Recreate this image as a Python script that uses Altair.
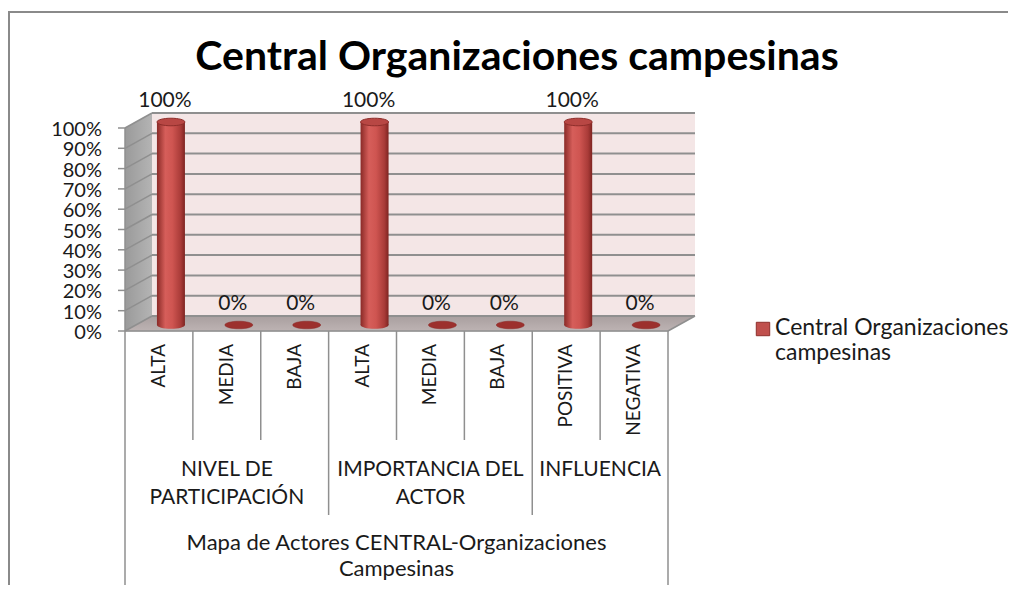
import altair as alt
import pandas as pd

# ---------------- data ----------------
categories = ["ALTA", "MEDIA", "BAJA", "ALTA", "MEDIA", "BAJA", "POSITIVA", "NEGATIVA"]
values = [1.0, 0.0, 0.0, 1.0, 0.0, 0.0, 1.0, 0.0]
value_labels = ["100%", "0%", "0%", "100%", "0%", "0%", "100%", "0%"]
groups = ["NIVEL DE\nPARTICIPACIÓN", "IMPORTANCIA DEL\nACTOR", "INFLUENCIA"]
group_sizes = [3, 3, 2]
top_group = "Mapa de Actores CENTRAL-Organizaciones\nCampesinas"
y_ticks = [0.0, 0.1, 0.2, 0.3, 0.4, 0.5, 0.6, 0.7, 0.8, 0.9, 1.0]
y_tick_labels = ["0%", "10%", "20%", "30%", "40%", "50%", "60%", "70%", "80%", "90%", "100%"]
series_name = "Central Organizaciones\ncampesinas"
title_text = "Central Organizaciones campesinas"

# ---------------- layout / style ----------------
W, H = 543, 203              # front plane of the plot (px)
N = len(categories)
UX = W / N                   # px per category unit
UY = H                       # px per y unit (domain 0..1)
DX = 27 / UX                 # 3-D depth, x
DY = 15 / UY                 # 3-D depth, y
BX = 12 / UX                 # bar depth shift, x
BY = 6 / UY                  # bar depth shift, y
BW = 28 / UX                 # bar width
FONT = "Lato"
GRID = "#8f8f8f"

xs = alt.Scale(domain=[0, N], nice=False, zero=False)
ys = alt.Scale(domain=[0, 1], nice=False, zero=False)
X = lambda f: alt.X(f, type="quantitative", scale=xs, axis=None)
Y = lambda f: alt.Y(f, type="quantitative", scale=ys, axis=None)

ELLIPSE = ("M-1,0C-1,-0.149,-0.552,-0.27,0,-0.27C0.552,-0.27,1,-0.149,1,0"
           "C1,0.149,0.552,0.27,0,0.27C-0.552,0.27,-1,0.149,-1,0Z")

# ---------------- tables ----------------
bars = pd.DataFrame({
    "cat": categories,
    "value": values,
    "label": value_labels,
    "c": [i + 0.5 for i in range(N)],
})
bars["x1"] = bars["c"] + BX - BW / 2
bars["x2"] = bars["c"] + BX + BW / 2
bars["xc"] = bars["c"] + BX
bars["yb"] = BY
bars["yt"] = bars["value"] + BY
bars["xl"] = bars["c"] + 6 / UX
pos_bars = bars[bars["value"] > 0]
zero_bars = bars[bars["value"] == 0]

ticks = pd.DataFrame({"v": y_ticks, "lab": y_tick_labels})
ticks["vb"] = ticks["v"] + DY
ticks["x0"] = 0.0
ticks["xb0"] = DX
ticks["xb1"] = N + DX
ticks["xt"] = -7 / UX

wall = pd.DataFrame({"x": [0, DX], "y": [0, DY], "y2": [1, 1 + DY]})
floor = pd.DataFrame({"x": [0, DX, N, N + DX], "y": [0, 0, 0, DY], "y2": [0, DY, DY, DY]})
back = pd.DataFrame({"x": [DX], "x2": [N + DX], "y": [DY], "y2": [1 + DY]})

# category dividers
bounds = [0]
for s in group_sizes:
    bounds.append(bounds[-1] + s)
div_rows = []
for k in range(N + 1):
    if k in (0, N):
        depth = -254 / UY
    elif k in bounds:
        depth = -184 / UY
    else:
        depth = -109 / UY
    div_rows.append({"x": k, "y": 1.0 if k == 0 else 0.0, "y2": depth})
dividers = pd.DataFrame(div_rows)

grp = pd.DataFrame({
    "g": groups,
    "xc": [(bounds[i] + bounds[i + 1]) / 2 for i in range(len(groups))],
    "y": [-128 / UY] * len(groups),
})
top = pd.DataFrame({"g": [top_group], "xc": [N / 2], "y": [-202 / UY]})
leaf = pd.DataFrame({"cat": categories, "xc": [i + 0.5 for i in range(N)], "y": [-13 / UY] * N})
edges = pd.DataFrame({"x": [0, N], "x2": [N, N + DX], "y": [0, 0], "y2": [0, DY]})

# ---------------- layers ----------------
border = alt.Chart(pd.DataFrame({"a": [0]})).mark_rect(
    fill=None, stroke="#8a8a8a", strokeWidth=2
).encode(x=alt.value(-116), x2=alt.value(895), y=alt.value(-116), y2=alt.value(472))

wall_l = alt.Chart(wall).mark_area(
    color={"gradient": "linear", "x1": 0, "x2": 1, "y1": 0, "y2": 0,
           "stops": [{"offset": 0, "color": "#9a9a9a"}, {"offset": 1, "color": "#b4b4b4"}]},
    interpolate="linear",
).encode(x=X("x"), y=Y("y"), y2="y2")

floor_l = alt.Chart(floor).mark_area(
    color={"gradient": "linear", "x1": 0, "x2": 0, "y1": 1, "y2": 0,
           "stops": [{"offset": 0, "color": "#bdb3b3"}, {"offset": 1, "color": "#a99f9f"}]},
    interpolate="linear",
).encode(x=X("x"), y=Y("y"), y2="y2")

back_l = alt.Chart(back).mark_rect(fill="#f4e6e6").encode(
    x=X("x"), x2="x2", y=Y("y"), y2="y2")

grid_back = alt.Chart(ticks).mark_rule(color=GRID, strokeWidth=2).encode(
    x=X("xb0"), x2="xb1", y=Y("vb"))
grid_side = alt.Chart(ticks).mark_rule(color=GRID, strokeWidth=1.5).encode(
    x=X("x0"), x2="xb0", y=Y("v"), y2="vb")
tick_l = alt.Chart(ticks).mark_rule(color=GRID, strokeWidth=1.5).encode(
    x=X("xt"), x2="x0", y=Y("v"))
ylab = alt.Chart(ticks).mark_text(
    align="right", baseline="middle", dx=-23, dy=2, font=FONT, fontSize=20, color="#1a1a1a"
).encode(x=X("x0"), y=Y("v"), text="lab:N")

edge_l = alt.Chart(edges).mark_rule(color=GRID, strokeWidth=1.5).encode(
    x=X("x"), x2="x2", y=Y("y"), y2="y2")
div_l = alt.Chart(dividers).mark_rule(color=GRID, strokeWidth=1.5).encode(
    x=X("x"), y=Y("y"), y2="y2")

body_grad = {"gradient": "linear", "x1": 0, "x2": 1, "y1": 0, "y2": 0,
             "stops": [{"offset": 0, "color": "#8a2a27"},
                       {"offset": 0.3, "color": "#d65e5a"},
                       {"offset": 0.55, "color": "#cf5551"},
                       {"offset": 0.85, "color": "#a93b38"},
                       {"offset": 1, "color": "#7e2421"}]}

bottom_l = alt.Chart(pos_bars).mark_point(
    shape=ELLIPSE, size=BW * UX * BW * UX, filled=True, fill=body_grad, opacity=1, strokeWidth=0
).encode(x=X("xc"), y=Y("yb"))
body_l = alt.Chart(pos_bars).mark_rect(fill=body_grad).encode(
    x=X("x1"), x2="x2", y=Y("yb"), y2="yt")
top_l = alt.Chart(pos_bars).mark_point(
    shape=ELLIPSE, size=BW * UX * BW * UX, filled=True, fill="#b84744",
    stroke="#8e2e2b", strokeWidth=1, opacity=1
).encode(x=X("xc"), y=Y("yt"))
zero_l = alt.Chart(zero_bars).mark_point(
    shape=ELLIPSE, size=BW * UX * BW * UX, filled=True, fill="#9c302d",
    stroke="#8a2826", strokeWidth=0.5, opacity=1
).encode(x=X("xc"), y=Y("yt"))

val_l = alt.Chart(bars).mark_text(
    baseline="middle", align="center", dy=-21, font=FONT, fontSize=21, color="#1a1a1a"
).encode(x=X("xl"), y=Y("yt"), text="label:N")

leaf_l = alt.Chart(leaf).mark_text(
    angle=270, align="right", baseline="middle", font=FONT, fontSize=19, color="#1a1a1a"
).encode(x=X("xc"), y=Y("y"), text="cat:N")
grp_l = alt.Chart(grp).mark_text(
    align="center", baseline="top", lineBreak="\n", lineHeight=28,
    font=FONT, fontSize=21, color="#1a1a1a"
).encode(x=X("xc"), y=Y("y"), text="g:N")
top_l2 = alt.Chart(top).mark_text(
    align="center", baseline="top", lineBreak="\n", lineHeight=26,
    font=FONT, fontSize=22, color="#1a1a1a"
).encode(x=X("xc"), y=Y("y"), text="g:N")

title_l = alt.Chart(pd.DataFrame({"t": [title_text]})).mark_text(
    align="center", baseline="middle", font=FONT, fontSize=41, fontWeight="bold", color="#000000"
).encode(x=alt.value(392), y=alt.value(-70), text="t:N")

leg_sq = alt.Chart(pd.DataFrame({"s": [series_name]})).mark_square(
    size=180, fill="#c0504d", stroke="#8e2e2b", strokeWidth=1, opacity=1
).encode(x=alt.value(638), y=alt.value(201))
leg_tx = alt.Chart(pd.DataFrame({"s": [series_name]})).mark_text(
    align="left", baseline="top", lineBreak="\n", lineHeight=25,
    font=FONT, fontSize=23, color="#1a1a1a"
).encode(x=alt.value(650), y=alt.value(189), text="s:N")

chart = alt.layer(
    border, wall_l, back_l, floor_l, grid_back, grid_side, tick_l, edge_l, div_l,
    bottom_l, body_l, top_l, zero_l, val_l, ylab, leaf_l, grp_l, top_l2,
    title_l, leg_sq, leg_tx,
).properties(
    width=W, height=H,
    autosize=alt.AutoSizeParams(type="none"),
    padding={"left": 117, "top": 120, "right": 340, "bottom": 254},
).configure_view(stroke=None).configure(background="white")

chart.save("out.html", embed_options={"renderer": "svg", "actions": False})
